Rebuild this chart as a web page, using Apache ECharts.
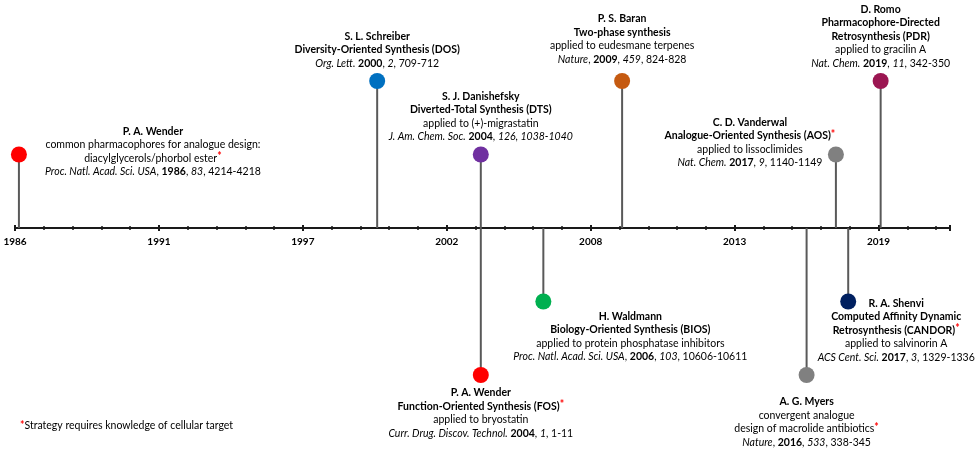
<!DOCTYPE html>
<html><head><meta charset="utf-8">
<script src="https://cdn.jsdelivr.net/npm/echarts@6/dist/echarts.min.js"></script>
<style>html,body{margin:0;padding:0;background:#fff}#c{width:975px;height:450px}</style>
</head><body><div id="c"></div>
<script>
// ---- data ----
const tickLabels = ['1986', '1991', '1997', '2002', '2008', '2013', '2019'];
const eventYears = [1986.15, 1999.84, 2003.8, 2003.8, 2006.19, 2009.2, 2016.25, 2017.37, 2017.84, 2019.08];
const eventLevels = [1, 2, 1, -2, -1, 2, -2, 1, -1, 2];
const eventLabels = [
  '{b|P. A. Wender}\ncommon pharmacophores for analogue design:\ndiacylglycerols/phorbol ester{r|*}\n{i|Proc. Natl. Acad. Sci. USA}, {b|1986}, {i|83}, 4214-4218',
  '{b|S. L. Schreiber}\n{b|Diversity-Oriented Synthesis (DOS)}\n{i|Org. Lett.} {b|2000}, {i|2}, 709-712',
  '{b|S. J. Danishefsky}\n{b|Diverted-Total Synthesis (DTS)}\napplied to (+)-migrastatin\n{i|J. Am. Chem. Soc.} {b|2004}, {i|126, 1038-1040}',
  '{b|P. A. Wender}\n{b|Function-Oriented Synthesis (FOS)}{r|*}\napplied to bryostatin\n{i|Curr. Drug. Discov. Technol.} {b|2004}, {i|1}, 1-11',
  '{b|H. Waldmann}\n{b|Biology-Oriented Synthesis (BIOS)}\napplied to protein phosphatase inhibitors\n{i|Proc. Natl. Acad. Sci. USA}, {b|2006}, {i|103}, 10606-10611',
  '{b|P. S. Baran}\n{b|Two-phase synthesis}\napplied to eudesmane terpenes\n{i|Nature}, {b|2009}, {i|459}, 824-828',
  '{b|A. G. Myers}\nconvergent analogue\ndesign of macrolide antibiotics{r|*}\n{i|Nature}, {b|2016}, {i|533}, 338-345',
  '{b|C. D. Vanderwal}\n{b|Analogue-Oriented Synthesis (AOS)}{r|*}\napplied to lissoclimides\n{i|Nat. Chem.} {b|2017}, {i|9}, 1140-1149',
  '{b|R. A. Shenvi}\n{b|Computed Affinity Dynamic}\n{b|Retrosynthesis (CANDOR)}{r|*}\napplied to salvinorin A\n{i|ACS Cent. Sci.} {b|2017}, {i|3}, 1329-1336',
  '{b|D. Romo}\n{b|Pharmacophore-Directed}\n{b|Retrosynthesis (PDR)}\napplied to gracilin A\n{i|Nat. Chem.} {b|2019}, {i|11}, 342-350'
];
const footnote = '{r|*}Strategy requires knowledge of cellular target';

// ---- styles / layout ----
const markerColors = ['#FF0000', '#0070C0', '#7030A0', '#FF0000', '#00B050', '#C55A11', '#808080', '#808080', '#002060', '#9B1652'];
const labelLayout = [
  {dx: 134, dy: -3, va: 'middle'},
  {dx: 0, dy: -11, va: 'bottom'},
  {dx: 0, dy: -11, va: 'bottom'},
  {dx: 0, dy: 11, va: 'top'},
  {dx: 87, dy: 8, va: 'top'},
  {dx: 0, dy: -15, va: 'bottom'},
  {dx: 0, dy: 20, va: 'top'},
  {dx: -86, dy: -12, va: 'middle'},
  {dx: 48, dy: -5, va: 'top'},
  {dx: 0, dy: -11, va: 'bottom'}
];
const FONT = 'Lato';
const FS = 10.5;
const rich = {
  b: {fontWeight: 'bold', fontFamily: FONT, fontSize: FS, fill: '#000', color: '#000', align: 'center'},
  i: {fontStyle: 'italic', fontFamily: FONT, fontSize: FS, fill: '#000', color: '#000', align: 'center'},
  r: {fontWeight: 'bold', fontFamily: FONT, fontSize: FS, fill: '#FF0000', color: '#FF0000', align: 'center', verticalAlign: 'top'}
};

const chart = echarts.init(document.getElementById('c'), null, {renderer: 'canvas'});
const axisBase = {
  type: 'value', min: 1986, max: 2021.73, interval: 5.5, position: 'bottom', offset: 0,
  gridIndex: 0,
  axisLine: {onZero: false, lineStyle: {color: '#1a1a1a', width: 2}},
  splitLine: {show: false},
  minorSplitLine: {show: false}
};
chart.setOption({
  animation: false,
  grid: {left: 15, right: 25, top: 81, bottom: 222},
  xAxis: [
    Object.assign({}, axisBase, {
      axisTick: {show: true, inside: false, length: 3, lineStyle: {color: '#1a1a1a', width: 2}},
      minorTick: {show: true, splitNumber: 5, length: 2, lineStyle: {color: '#1a1a1a', width: 1.5}},
      axisLabel: {
        margin: 9, fontFamily: FONT, fontWeight: 'bold', fontSize: 10, color: '#000',
        showMaxLabel: false,
        formatter: function (v) {
          const k = (v - 1986) / 5.5;
          if (Math.abs(k - Math.round(k)) > 1e-6) return '';
          return tickLabels[Math.round(k)] || '';
        }
      }
    }),
    Object.assign({}, axisBase, {
      axisTick: {show: true, inside: true, length: 3, lineStyle: {color: '#1a1a1a', width: 2}},
      minorTick: {show: true, splitNumber: 5, length: 2, lineStyle: {color: '#1a1a1a', width: 1.5}},
      axisLabel: {show: false}
    })
  ],
  yAxis: {type: 'value', min: 0, max: 2, show: false},
  graphic: [{
    type: 'text', left: 20, top: 420,
    style: {text: footnote, rich: rich, fontFamily: FONT, fontSize: FS, fill: '#000'}
  }],
  series: [{
    type: 'custom',
    xAxisIndex: 0,
    clip: false,
    data: eventYears.map((y, i) => [y, eventLevels[i]]),
    renderItem: function (params, api) {
      const i = params.dataIndex;
      const base = api.coord([api.value(0), 0]);
      const p = api.coord([api.value(0), api.value(1)]);
      const L = labelLayout[i];
      return {
        type: 'group',
        children: [
          {type: 'line', shape: {x1: p[0], y1: base[1], x2: p[0], y2: p[1]}, style: {stroke: '#595959', lineWidth: 2}},
          {type: 'circle', shape: {cx: p[0], cy: p[1], r: 8}, style: {fill: markerColors[i]}},
          {type: 'text', x: p[0] + L.dx, y: p[1] + L.dy,
            style: {text: eventLabels[i], rich: rich, align: 'center', verticalAlign: L.va,
              fontFamily: FONT, fontSize: FS, lineHeight: 13.5, fill: '#000'}}
        ]
      };
    }
  }]
});
</script></body></html>
